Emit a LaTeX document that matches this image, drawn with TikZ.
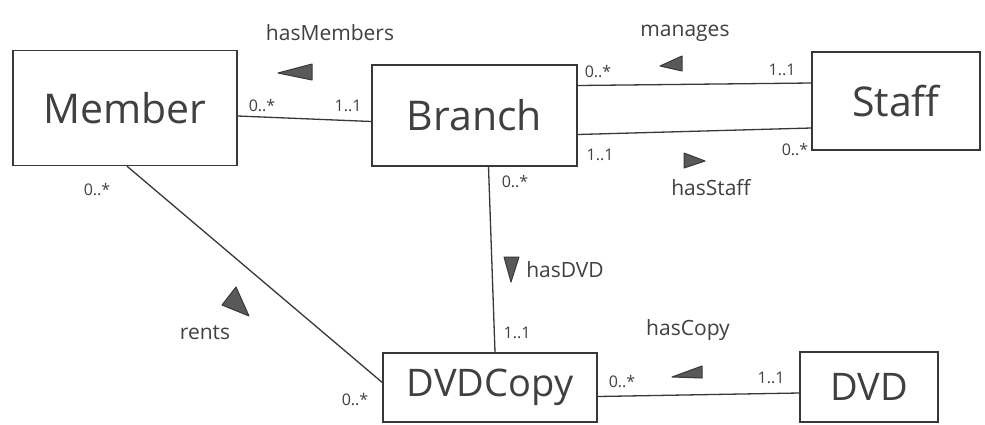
\documentclass[tikz,border=0pt]{standalone}
\usepackage{fontspec}
\setmainfont{Open Sans}
\begin{document}
\begin{tikzpicture}[x=1pt,y=-1pt,
  ink/.style={draw=black!78, line width=1.4pt},
  cls/.style={ink, rectangle, inner sep=0pt, font=\fontsize{41}{45}\selectfont, text=black!75},
  conn/.style={draw=black!78, line width=1.3pt},
  mult/.style={font=\fontsize{16}{18}\selectfont, text=black!75, inner sep=0pt},
  role/.style={font=\fontsize{21}{24}\selectfont, text=black!75, inner sep=0pt},
  tri/.style={draw=black!78, fill=black!65, line width=1pt, line join=round}]
\useasboundingbox[fill=white] (0,0) rectangle (985,424);

\node[cls, minimum width=224pt, minimum height=115pt] (member) at (125,108) {Member};
\node[cls, minimum width=205pt, minimum height=101pt] (branch) at (474.5,115.5) {Branch};
\node[cls, minimum width=168pt, minimum height=98pt] (staff) at (896,101) {Staff};
\node[cls, minimum width=214pt, minimum height=69pt, font=\fontsize{38}{42}\selectfont] (dvdcopy) at (490,387.5) {DVDCopy};
\node[cls, minimum width=138pt, minimum height=70pt, font=\fontsize{38}{42}\selectfont] (dvd) at (869,387) {DVD};

% connectors
\draw[conn] ([yshift=-8pt]member.east) -- ([yshift=-6pt]branch.west);
\draw[conn] ([yshift=30pt]branch.east) -- ([yshift=18pt]staff.west);
\draw[conn] ([yshift=-19pt]branch.east) -- ([yshift=-27pt]staff.west);
\draw[conn] ([xshift=14pt]branch.south) -- ([xshift=5pt]dvdcopy.north);
\draw[conn] ([xshift=2pt]member.south) -- ([yshift=5pt]dvdcopy.west);
\draw[conn] ([yshift=-9pt]dvdcopy.east) -- ([yshift=-6pt]dvd.west);

% roles
\node[role] (rHasMembers) at (330,33) {hasMembers};
\node[role] (rManages) at (685,33) {manages};
\node[role] (rHasStaff) at (711,188) {hasStaff};
\node[role] (rHasDVD) at (565,270) {hasDVD};
\node[role] (rHasCopy) at (688,330) {hasCopy};
\node[role] (rRents) at (205,333) {rents};

% direction triangles
\draw[tri] (278,73) -- (312,64) -- (312,80) -- cycle;
\draw[tri] (660,66) -- (682,56) -- (682,71) -- cycle;
\draw[tri] (705,161) -- (684,153) -- (684,168) -- cycle;
\draw[tri] (511,282) -- (504,257) -- (519,257) -- cycle;
\draw[tri] (672,377) -- (702,366) -- (702,378) -- cycle;
\draw[tri] (236,287) -- (222,305) -- (249,316) -- cycle;

% multiplicities
\node[mult] (m1) at (262,106) {0..*};
\node[mult] (m2) at (348,106) {1..1};
\node[mult] (m3) at (598,72) {0..*};
\node[mult] (m4) at (782,70) {1..1};
\node[mult] (m5) at (600,155) {1..1};
\node[mult] (m6) at (795,150) {0..*};
\node[mult] (m7) at (97,190) {0..*};
\node[mult] (m8) at (515,182) {0..*};
\node[mult] (m9) at (517,333) {1..1};
\node[mult] (m10) at (355,400) {0..*};
\node[mult] (m11) at (622,382) {0..*};
\node[mult] (m12) at (771,378) {1..1};
\end{tikzpicture}
\end{document}
